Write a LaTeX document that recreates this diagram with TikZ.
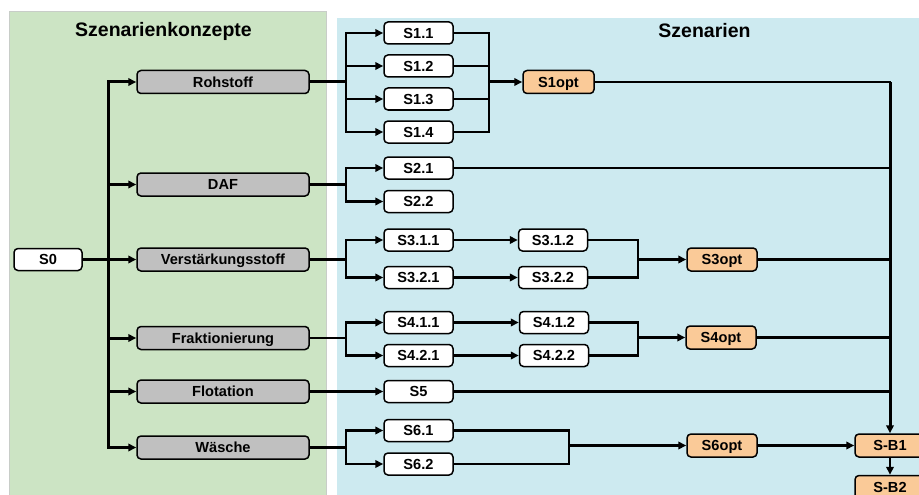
\documentclass[tikz,border=0pt]{standalone}
\usepackage{fontspec}
\setmainfont{Liberation Sans}
\usetikzlibrary{arrows.meta,positioning}
\definecolor{pgreen}{RGB}{204,228,196}
\definecolor{pgreenr}{RGB}{200,205,200}
\definecolor{pblue}{RGB}{205,234,240}
\definecolor{gfill}{RGB}{192,192,192}
\definecolor{ofill}{RGB}{250,202,152}
\tikzset{
  box/.style={rectangle,rounded corners=4pt,draw=black,line width=1.5pt,
    inner sep=0pt,text height=10.4pt,text depth=0pt,
    font=\fontsize{14.6}{16}\selectfont\bfseries},
  gbox/.style={box,fill=gfill,minimum width=172pt,minimum height=23pt},
  sbox/.style={box,fill=white,minimum width=69pt,minimum height=22pt},
  obox/.style={box,fill=ofill,minimum width=70pt,minimum height=23pt},
  ln/.style={line width=2.3pt},
  lnk/.style={line width=3pt},
  arr/.style={-{Triangle[length=8pt,width=7.5pt]},line width=2.3pt},
  arrk/.style={-{Triangle[length=8pt,width=7.5pt]},line width=3pt},
  ttl/.style={font=\fontsize{19.5}{22}\selectfont\bfseries},
}
\begin{document}
\begin{tikzpicture}[x=1pt,y=-1pt]

    \useasboundingbox (0,0) rectangle (919,495);
    \clip (0,0) rectangle (919,495);

    % ── Panels ────────────────────────────────────────────────────────────────
    \fill[pgreen] (9,11) rectangle (326,500);
    \draw[pgreenr,line width=0.6pt] (9,500) -- (9,11) -- (326,11) -- (326,500);
    \fill[pblue] (337,18) rectangle (925,500);

    \node[ttl] (tk) at (163.5,31) {Szenarienkonzepte};
    \node[ttl] (ts) at (704.5,31) {Szenarien};

    % ── Concepts ──────────────────────────────────────────────────────────────
    \node[sbox,minimum width=68pt] (s0) at (48,259.5) {S0};
    \node[gbox] (roh) at (223,82)    {Rohstoff};
    \node[gbox] (daf) at (223,184.5) {DAF};
    \node[gbox] (ver) at (223,259.5) {Verstärkungsstoff};
    \node[gbox] (fra) at (223,338)   {Fraktionierung};
    \node[gbox] (flo) at (223,391.5) {Flotation};
    \node[gbox] (was) at (223,447.5) {Wäsche};

    \foreach \n in {roh,daf,ver,fra,flo,was}
      \draw[arrk] (s0.east) -- ++(26,0) |- (\n);

    % ── Scenarios, first column ───────────────────────────────────────────────
    \node[sbox] (s11)  at (418.5,33) {S1.1};
    \node[sbox,below=9.5pt of s11] (s12) {S1.2};
    \node[sbox,below=9.5pt of s12] (s13) {S1.3};
    \node[sbox,below=9.5pt of s13] (s14) {S1.4};
    \node[sbox] (s21)  at (418.5,168) {S2.1};
    \node[sbox,below=10pt of s21] (s22) {S2.2};
    \node[sbox] (s311) at (418.5,240) {S3.1.1};
    \node[sbox,below=14pt of s311] (s321) {S3.2.1};
    \node[sbox] (s411) at (418.5,322.5) {S4.1.1};
    \node[sbox,below=9.5pt of s411] (s421) {S4.2.1};
    \node[sbox] (s5)   at (418.5,391.5) {S5};
    \node[sbox] (s61)  at (418.5,430.5) {S6.1};
    \node[sbox,below=10pt of s61] (s62) {S6.2};

    \foreach \n in {s11,s12,s13,s14}
      \draw[arr] (roh.east) -- ++(36,0) |- (\n);
    \draw[lnk] (roh.east) -- ++(36,0);
    \foreach \n in {s21,s22}
      \draw[arr] (daf.east) -- ++(36,0) |- (\n);
    \foreach \n in {s311,s321}
      \draw[arr] (ver.east) -- ++(36,0) |- (\n);
    \foreach \n in {s411,s421}
      \draw[arr] (fra.east) -- ++(36,0) |- (\n);
    \draw[arr] (flo) -- (s5);
    \foreach \n in {s61,s62}
      \draw[arr] (was.east) -- ++(36,0) |- (\n);

    % ── Scenarios, second column ──────────────────────────────────────────────
    \node[sbox,right=64pt of s311] (s312) {S3.1.2};
    \node[sbox,right=64pt of s321] (s322) {S3.2.2};
    \node[sbox,right=65pt of s411] (s412) {S4.1.2};
    \node[sbox,right=65pt of s421] (s422) {S4.2.2};

    \draw[arr] (s311) -- (s312);
    \draw[arr] (s321) -- (s322);
    \draw[arr] (s411) -- (s412);
    \draw[arr] (s421) -- (s422);

    % ── Optimised scenarios ───────────────────────────────────────────────────
    \node[obox,minimum width=71pt] (s1o) at (558.5,82) {S1opt};
    \node[obox] (s3o) at (722,259.5) {S3opt};
    \node[obox] (s4o) at (721,337.5) {S4opt};
    \node[obox] (s6o) at (722,445.5) {S6opt};
    \node[obox] (sb1) at (890,445.5) {S-B1};
    \node[obox,below=17pt of sb1] (sb2) {S-B2};

    \coordinate (k1) at ([xshift=35pt]s11.east);
    \draw[ln] (s11.east) -- (k1) |- (s14.east);
    \draw[ln] (s12.east) -- (k1 |- s12);
    \draw[ln] (s13.east) -- (k1 |- s13);
    \draw[arrk] (k1 |- s1o) -- (s1o);

    \coordinate (k3) at ([xshift=50pt]s312.east);
    \draw[ln] (s312.east) -- (k3) |- (s322.east);
    \draw[arr] (k3 |- s3o) -- (s3o);

    \coordinate (k4) at ([xshift=49pt]s412.east);
    \draw[ln] (s412.east) -- (k4) |- (s422.east);
    \draw[arr] (k4 |- s4o) -- (s4o);

    \coordinate (k6) at ([xshift=115pt]s61.east);
    \draw[ln] (s61.east) -- (k6) |- (s62.east);
    \draw[arr] (k6 |- s6o) -- (s6o);

    % ── Merge into S-B1 ───────────────────────────────────────────────────────
    \foreach \n in {s1o,s21,s3o,s4o,s5}
      \draw[ln,line cap=rect] (\n) -- (\n -| sb1);
    \draw[arrk] (s1o -| sb1) -- (sb1);
    \draw[arr] (s6o) -- (sb1);
    \draw[arr] (sb1) -- (sb2);

  \end{tikzpicture}
\end{document}
